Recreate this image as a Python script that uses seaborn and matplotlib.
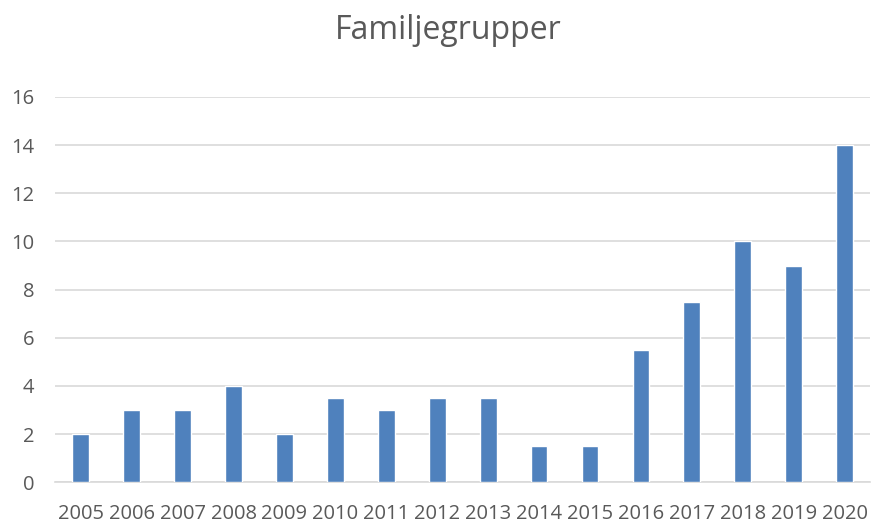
import matplotlib
matplotlib.use("Agg")
import matplotlib.pyplot as plt
import seaborn as sns
import pandas as pd

# data
years = ['2005', '2006', '2007', '2008', '2009', '2010', '2011', '2012',
         '2013', '2014', '2015', '2016', '2017', '2018', '2019', '2020']
counts = [2, 3, 3, 4, 2, 3.5, 3, 3.5, 3.5, 1.5, 1.5, 5.5, 7.5, 10, 9, 14]
yticks = [0, 2, 4, 6, 8, 10, 12, 14, 16]

df = pd.DataFrame({'year': years, 'count': counts})

sns.set_style("white")
plt.rcParams['font.family'] = ['Open Sans', 'DejaVu Sans']

fig = plt.figure(figsize=(8.78, 5.27), dpi=100)
ax = fig.add_axes([0.063, 0.085, 0.928, 0.731])

sns.barplot(data=df, x='year', y='count', color='#4F81BD', width=0.33,
            saturation=1, ax=ax, zorder=3)

ax.set_ylim(0, 16)
ax.set_yticks(yticks)
ax.yaxis.grid(True, color='#D9D9D9', linewidth=1.2, zorder=0)
for s in ['top', 'right', 'left']:
    ax.spines[s].set_visible(False)
ax.spines['bottom'].set_color('#D9D9D9')
ax.spines['bottom'].set_linewidth(1.2)
ax.tick_params(axis='both', length=0, labelsize=14.5, colors='#595959')
ax.tick_params(axis='y', pad=15)
ax.tick_params(axis='x', pad=16)
ax.set_xlabel('')
ax.set_ylabel('')
fig.text(0.51, 0.943, 'Familjegrupper', fontsize=23, color='#595959',
         ha='center', va='center')

fig.savefig('out.png', dpi=100)
